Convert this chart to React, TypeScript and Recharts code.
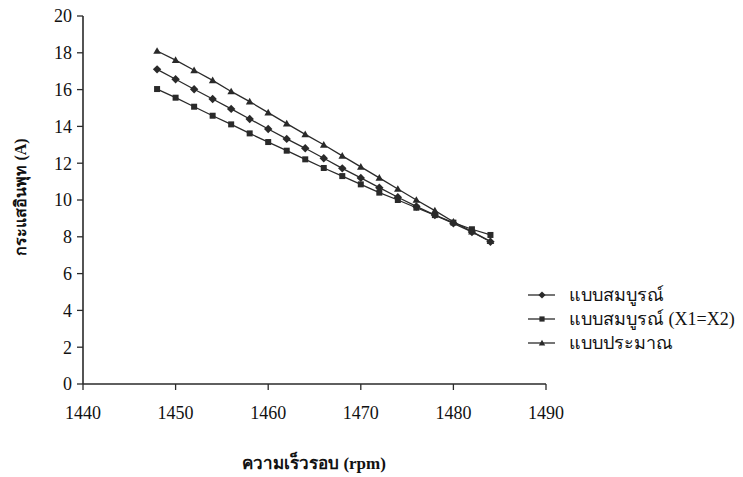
import React from 'react';
import { LineChart, Line, XAxis, YAxis, Legend } from 'recharts';

const speeds = [1448, 1450, 1452, 1454, 1456, 1458, 1460, 1462, 1464, 1466, 1468, 1470, 1472, 1474, 1476, 1478, 1480, 1482, 1484];
const fullModel = [17.1, 16.56, 16.02, 15.49, 14.95, 14.4, 13.86, 13.32, 12.81, 12.27, 11.72, 11.2, 10.67, 10.15, 9.65, 9.18, 8.73, 8.26, 7.73];
const fullModelEq = [16.03, 15.56, 15.07, 14.58, 14.11, 13.62, 13.15, 12.68, 12.21, 11.74, 11.3, 10.85, 10.4, 10.0, 9.58, 9.18, 8.77, 8.41, 8.1];
const approxModel = [18.1, 17.6, 17.05, 16.5, 15.9, 15.35, 14.75, 14.15, 13.57, 13.0, 12.4, 11.8, 11.2, 10.6, 10.0, 9.42, 8.82, 8.28, 7.76];
const xTicks = [1440, 1450, 1460, 1470, 1480, 1490];
const yTicks = [0, 2, 4, 6, 8, 10, 12, 14, 16, 18, 20];
const seriesNames = ['แบบสมบูรณ์', 'แบบสมบูรณ์ (X1=X2)', 'แบบประมาณ'];
const xTitle = 'ความเร็วรอบ (rpm)';
const yTitle = 'กระแสอินพุท (A)';

const data = speeds.map((s, i) => ({ s, a: fullModel[i], b: fullModelEq[i], c: approxModel[i] }));

const INK = '#2a2a2a';
const FONT = "'Liberation Serif', 'DejaVu Serif', serif";

const Diamond = ({ cx, cy, r = 4.2 }: any) => (
  <path d={`M${cx},${cy - r}L${cx + r},${cy}L${cx},${cy + r}L${cx - r},${cy}Z`} fill={INK} stroke="none" />
);
const Square = ({ cx, cy, r = 3 }: any) => (
  <rect x={cx - r} y={cy - r} width={2 * r} height={2 * r} fill={INK} stroke="none" />
);
const Triangle = ({ cx, cy, r = 3.8 }: any) => (
  <path d={`M${cx},${cy - r}L${cx + r},${cy + r * 0.75}L${cx - r},${cy + r * 0.75}Z`} fill={INK} stroke="none" />
);

const markers = [Diamond, Square, Triangle];
const legendMarkers = [
  (cx: number, cy: number) => <Diamond cx={cx} cy={cy} r={3.6} />,
  (cx: number, cy: number) => <Square cx={cx} cy={cy} r={2.6} />,
  (cx: number, cy: number) => <Triangle cx={cx} cy={cy} r={3.2} />,
];

const renderDot = (Shape: any) => (props: any) => {
  const { cx, cy, index } = props;
  if (cx == null || cy == null) return <g key={index} />;
  return <Shape key={index} cx={cx} cy={cy} />;
};

const LegendContent = () => (
  <svg width={215} height={70} style={{ overflow: 'visible' }}>
    {seriesNames.map((n, i) => {
      const y = 7 + i * 24;
      return (
        <g key={n}>
          <line x1={0} x2={27} y1={y} y2={y} stroke={INK} strokeWidth={1.3} />
          {legendMarkers[i](14, y)}
          <text x={41} y={y + 6} fontFamily={FONT} fontSize={18} fill="#111">{n}</text>
        </g>
      );
    })}
  </svg>
);

export default function App() {
  return (
    <div style={{ position: 'absolute', left: 0, top: 0, background: '#fff' }}>
      <LineChart width={743} height={477} data={data} margin={{ top: 16, right: 197, bottom: 0, left: 0 }}>
        <XAxis
          dataKey="s"
          type="number"
          domain={[1440, 1490]}
          ticks={xTicks}
          interval={0}
          height={93}
          tickSize={6}
          tickLine={{ stroke: INK, strokeWidth: 1.3 }}
          axisLine={{ stroke: INK, strokeWidth: 1.6 }}
          tick={{ fill: '#111', fontSize: 18, fontFamily: FONT, dy: 14 }}
          label={(p: any) => (
            <text x={314} y={469} textAnchor="middle" fontFamily={FONT} fontWeight="bold" fontSize={17} fill="#111">{xTitle}</text>
          )}
        />
        <YAxis
          type="number"
          domain={[0, 20]}
          ticks={yTicks}
          interval={0}
          width={83}
          tickSize={6}
          tickLine={{ stroke: INK, strokeWidth: 1.3 }}
          axisLine={{ stroke: INK, strokeWidth: 1.6 }}
          tick={{ fill: '#111', fontSize: 18, fontFamily: FONT, dx: -3 }}
          label={(p: any) => (
            <text x={20} y={197} transform="rotate(-90 20 197)" textAnchor="middle" dominantBaseline="central" fontFamily={FONT} fontWeight="bold" fontSize={16} fill="#111">{yTitle}</text>
          )}
        />
        <Legend layout="vertical" align="center" verticalAlign="middle" content={<LegendContent />} wrapperStyle={{ left: 528, top: 288, width: 215, height: 70 }} />
        {(['a', 'b', 'c'] as const).map((k, i) => (
          <Line
            key={k}
            dataKey={k}
            name={seriesNames[i]}
            stroke={INK}
            strokeWidth={1.3}
            dot={renderDot(markers[i])}
            activeDot={false}
            isAnimationActive={false}
            type="linear"
          />
        ))}
      </LineChart>
    </div>
  );
}
